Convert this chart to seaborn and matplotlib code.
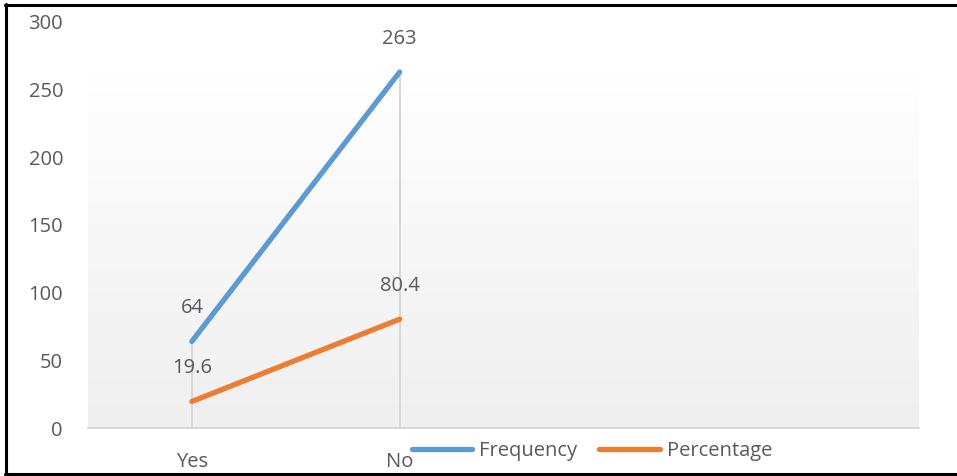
import matplotlib
matplotlib.use("Agg")
import matplotlib.pyplot as plt
from matplotlib.lines import Line2D
import numpy as np
import pandas as pd
import seaborn as sns

# Survey response counts and shares
categories = ["Yes", "No"]
frequency = [64, 263]
percentage = [19.6, 80.4]
series_names = ["Frequency", "Percentage"]
y_ticks = [0, 50, 100, 150, 200, 250, 300]

colors = {"Frequency": "#5B9BD5", "Percentage": "#ED7D31"}
text_color = "#595959"
grid_color = "#d4d4d4"

sns.set_theme(style="white")
plt.rcParams["font.family"] = ["Open Sans", "DejaVu Sans"]
fs = 14.5

df = pd.DataFrame({
    "category": categories * 2,
    "value": frequency + percentage,
    "series": [series_names[0]] * len(categories) + [series_names[1]] * len(categories),
})

fig = plt.figure(figsize=(9.57, 4.76), dpi=100)
ax = fig.add_axes([88 / 957, 48 / 476, 831 / 957, 406 / 476])
ax.set_xlim(-0.5, 3.5)
ax.set_ylim(0, 300)

# soft vertical gradient behind the lines
grad = np.linspace(1.0, 0.0, 256).reshape(-1, 1)
top_rgb = np.array([1.0, 1.0, 1.0])
bot_rgb = np.array([0.937, 0.937, 0.937])
img = grad[..., None] * top_rgb + (1 - grad[..., None]) * bot_rgb
ax.imshow(img, extent=(-0.5, 3.5, 0, 266), aspect="auto", zorder=0, origin="upper")

# drop lines from the highest point down to the axis
for i, cat in enumerate(categories):
    top = max(frequency[i], percentage[i])
    ax.vlines(i, 0, top, color=grid_color, linewidth=1.3, zorder=1)

sns.lineplot(data=df, x="category", y="value", hue="series", palette=colors,
             linewidth=3.8, solid_capstyle="round", ax=ax, zorder=3, sort=False)

# value labels above each point
for name, vals in zip(series_names, [frequency, percentage]):
    for i, v in enumerate(vals):
        ax.annotate(f"{v:g}", (i, v), xytext=(0, 24), textcoords="offset points",
                    ha="center", va="center", fontsize=fs, color=text_color, zorder=4)

ax.set_xticks(range(len(categories)))
ax.set_xticklabels(categories)
ax.set_yticks(y_ticks)
ax.set_xlabel("")
ax.set_ylabel("")
ax.tick_params(axis="both", length=0, labelsize=fs, labelcolor=text_color)
ax.tick_params(axis="y", pad=18)
ax.tick_params(axis="x", pad=17)
for s in ["left", "right", "top"]:
    ax.spines[s].set_visible(False)
ax.spines["bottom"].set_color(grid_color)
ax.spines["bottom"].set_linewidth(1.3)
ax.set_xlim(-0.5, 3.5)
ax.set_ylim(0, 300)

sns.move_legend(ax, loc="center", bbox_to_anchor=(592 / 957, 1 - 451 / 476),
                bbox_transform=fig.transFigure, ncol=2, frameon=False, title=None,
                fontsize=fs, handlelength=3.0, handletextpad=0.35, columnspacing=1.1,
                borderpad=0)
for t in ax.get_legend().get_texts():
    t.set_color(text_color)

# outer frame on left, top and bottom
lw = 2.2
fig.add_artist(Line2D([6 / 957, 6 / 957], [0, 1 - 4 / 476], transform=fig.transFigure,
                      color="black", linewidth=lw))
fig.add_artist(Line2D([5 / 957, 1], [1 - 5 / 476, 1 - 5 / 476], transform=fig.transFigure,
                      color="black", linewidth=lw))
fig.add_artist(Line2D([5 / 957, 1], [2 / 476, 2 / 476], transform=fig.transFigure,
                      color="black", linewidth=lw))

fig.savefig("out.png", dpi=100)
